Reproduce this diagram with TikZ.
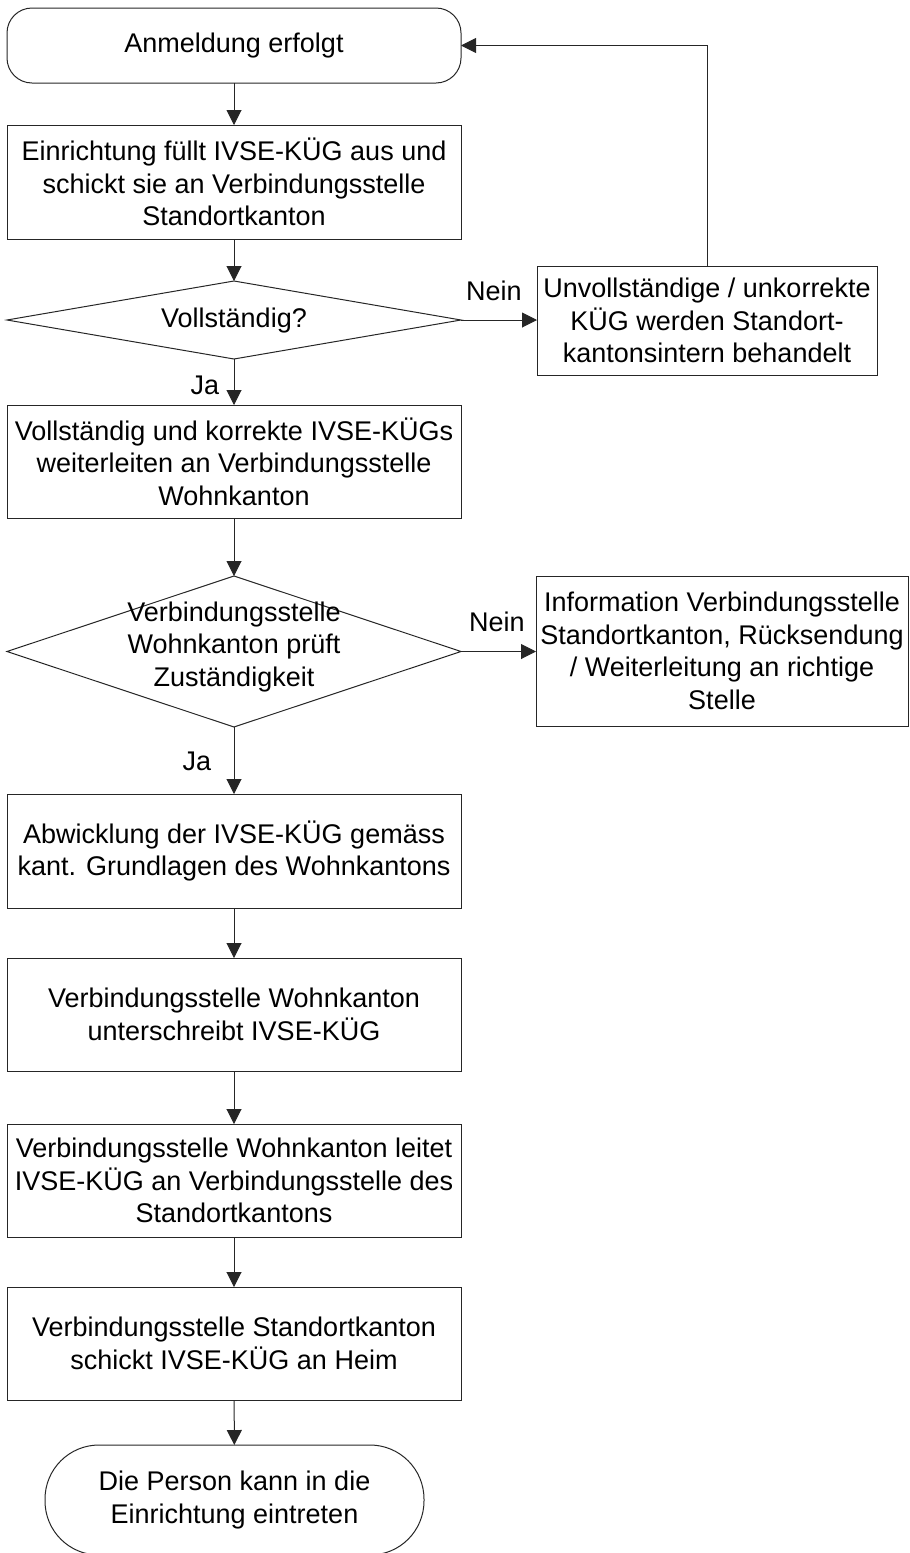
\documentclass[tikz,border=0pt]{standalone}
\usepackage{fontspec}
\setmainfont{Liberation Sans}
\usetikzlibrary{shapes.geometric,arrows.meta}
\begin{document}
\begin{tikzpicture}[x=1pt,y=-1pt,
  every node/.style={font=\fontsize{27}{32.5}\selectfont, align=center, inner sep=0pt, outer sep=0pt},
  ln/.style={line width=1pt, draw=black!85},
  proc/.style={ln, draw, minimum width=454pt, minimum height=113pt},
  side/.style={ln, draw, minimum height=109pt},
  term/.style={ln, draw, rounded corners=25pt, minimum width=454pt, minimum height=75pt},
  dec/.style={ln, draw, diamond, minimum width=454pt},
  lbl/.style={inner sep=0pt},
  arr/.style={ln, -{Triangle[length=15pt,width=15pt]}}
]
\useasboundingbox (0,0) rectangle (910,1553);

% main column
\node[term] (t1) at (234,45.5) {Anmeldung erfolgt};
\node[proc, minimum height=114pt] (b1) at (234,182) {Einrichtung füllt IVSE-KÜG aus und\\schickt sie an Verbindungsstelle\\Standortkanton};
\node[dec, minimum height=78pt] (d1) at (234,320) {};
\node (d1t) at (234,321) {Vollständig?};
\node[proc] (b2) at (234,461.5) {Vollständig und korrekte IVSE-KÜGs\\weiterleiten an Verbindungsstelle\\Wohnkanton};
\node[dec, minimum height=151pt] (d2) at (234,651.5) {};
\node (d2t) at (234,647) {Verbindungsstelle\\Wohnkanton prüft\\Zuständigkeit};
\node[proc, minimum height=114pt] (b3) at (234,851) {Abwicklung der IVSE-KÜG gemäss\\kant. Grundlagen des Wohnkantons};
\node[proc] (b4) at (234,1014.5) {Verbindungsstelle Wohnkanton\\unterschreibt IVSE-KÜG};
\node[proc] (b5) at (234,1180.5) {Verbindungsstelle Wohnkanton leitet\\IVSE-KÜG an Verbindungsstelle des\\Standortkantons};
\node[proc] (b6) at (234,1343.5) {Verbindungsstelle Standortkanton\\schickt IVSE-KÜG an Heim};
\node[ln, draw, rounded corners=54pt, minimum width=379pt, minimum height=110pt] (t2) at (234.5,1500) {Die Person kann in die\\Einrichtung eintreten};

% side boxes
\node[side, minimum width=340pt] (n1) at (707,320.5) {Unvollständige / unkorrekte\\KÜG werden Standort-\\kantonsintern behandelt};
\node[side, minimum width=372pt, minimum height=150pt] (n2) at (722,651) {Information Verbindungsstelle\\Standortkanton, Rücksendung\\/ Weiterleitung an richtige\\Stelle};

% labels
\node[lbl] (l1) at (494,291) {Nein};
\node[lbl] (l2) at (497,622) {Nein};
\node[lbl] (l3) at (205,385) {Ja};
\node[lbl] (l4) at (197,761) {Ja};

% connectors
\draw[arr] (t1) -- (b1);
\draw[arr] (b1) -- (d1);
\draw[arr] (d1) -- (b2);
\draw[arr] (d1.east) -- (n1.west |- d1.east);
\draw[arr] (n1.north) |- (t1.east);
\draw[arr] (b2) -- (d2);
\draw[arr] (d2.east) -- (n2.west |- d2.east);
\draw[arr] (d2) -- (b3);
\draw[arr] (b3) -- (b4);
\draw[arr] (b4) -- (b5);
\draw[arr] (b5) -- (b6);
\draw[arr] (b6) -- (t2);
\end{tikzpicture}
\end{document}
